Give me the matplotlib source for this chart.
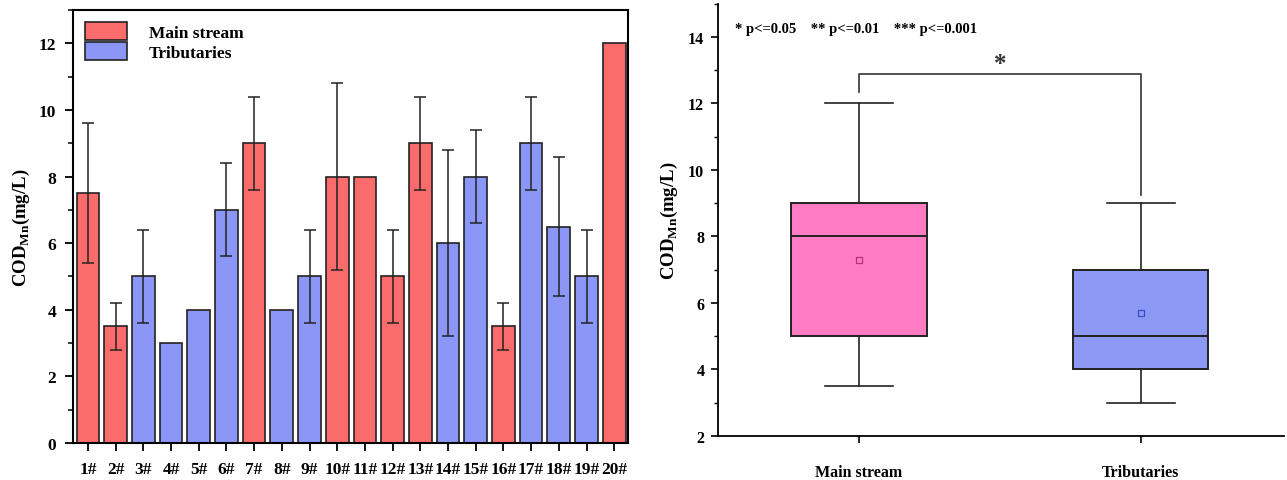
import numpy as np
import matplotlib.pyplot as plt
from matplotlib.patches import Patch
from matplotlib.ticker import MultipleLocator

#%% style
plt.rcParams['font.family'] = 'Liberation Serif'
plt.rcParams['font.weight'] = 'bold'
plt.rcParams['mathtext.fontset'] = 'custom'
plt.rcParams['mathtext.rm'] = 'Liberation Serif:bold'
plt.rcParams['mathtext.bf'] = 'Liberation Serif:bold'

#%% data
sites = [f'{i}#' for i in range(1, 21)]
cod = [7.5, 3.5, 5, 3, 4, 7, 9, 4, 5, 8, 8, 5, 9, 6, 8, 3.5, 9, 6.5, 5, 12]
cod_err = [2.1, 0.7, 1.4, 0, 0, 1.4, 1.4, 0, 1.4, 2.8, 0, 1.4, 1.4, 2.8, 1.4, 0.7, 1.4, 2.1, 1.4, 0]
is_main = [1, 1, 0, 0, 0, 0, 1, 0, 0, 1, 1, 1, 1, 0, 0, 1, 0, 0, 0, 1]
groups = ['Main stream', 'Tributaries']

c_main = '#FA6B6B'
c_trib = '#8A97F6'
c_box = ['#FF7BC2', '#8B98F4']
edge = '#222222'

#%% figure
fig = plt.figure(figsize=(12.87, 4.81), dpi=100)
ax1 = fig.add_axes([0.0565, 0.077, 0.4315, 0.9])
ax2 = fig.add_axes([0.558, 0.092, 0.44, 0.898])

#%% bar chart per site
x = np.arange(1, len(sites) + 1)
colors = [c_main if m else c_trib for m in is_main]
ax1.bar(x, cod, width=0.82, color=colors, edgecolor=edge, linewidth=1.2, zorder=2)
err = np.array(cod_err)
mask = err > 0
ax1.errorbar(x[mask], np.array(cod)[mask], yerr=err[mask], fmt='none',
             ecolor=edge, elinewidth=1.1, capsize=4.5, capthick=1.1, zorder=3)

ax1.set_xlim(0.45, 20.5)
ax1.set_ylim(0, 13)
ax1.set_xticks(x)
ax1.set_xticklabels(sites)
ax1.yaxis.set_major_locator(MultipleLocator(2))
ax1.yaxis.set_minor_locator(MultipleLocator(1))
ax1.tick_params(axis='both', which='major', direction='out', length=6, width=1.3,
                labelsize=12.5, pad=6)
ax1.tick_params(axis='y', which='minor', direction='out', length=3.5, width=1.1)
ax1.tick_params(axis='x', which='major', pad=7)
for sp in ax1.spines.values():
    sp.set_linewidth(1.5)
ax1.set_ylabel(r'COD$_{\rm Mn}$(mg/L)', fontsize=13.5, fontweight='bold', labelpad=5)

handles = [Patch(facecolor=c_main, edgecolor=edge, linewidth=1.2, label=groups[0]),
           Patch(facecolor=c_trib, edgecolor=edge, linewidth=1.2, label=groups[1])]
ax1.legend(handles=handles, loc='upper left', frameon=False, fontsize=12.5,
           handlelength=2.4, handleheight=1.2, handletextpad=1.3,
           labelspacing=0.05, borderaxespad=0.3, bbox_to_anchor=(0.0, 1.0))

#%% box plot of groups
main_vals = np.array([v for v, m in zip(cod, is_main) if m])
trib_vals = np.array([v for v, m in zip(cod, is_main) if not m])
stats = []
for name, vals in zip(groups, [main_vals, trib_vals]):
    q1, med, q3 = np.percentile(vals, [25, 50, 75], method='nearest')
    stats.append(dict(label=name, med=med, q1=q1, q3=q3,
                      whislo=vals.min(), whishi=vals.max(),
                      mean=vals.mean(), fliers=[]))

bp = ax2.bxp(stats, positions=[1, 2], widths=0.48, patch_artist=True,
             showmeans=True, showfliers=False,
             boxprops=dict(edgecolor=edge, linewidth=1.4),
             medianprops=dict(color=edge, linewidth=1.4),
             whiskerprops=dict(color=edge, linewidth=1.2),
             capprops=dict(color=edge, linewidth=1.2),
             meanprops=dict(marker='s', markersize=4, markerfacecolor='none',
                            markeredgewidth=0.9))
for patch, c in zip(bp['boxes'], c_box):
    patch.set_facecolor(c)
for cap in bp['caps']:
    xd = cap.get_xdata()
    mid = (xd[0] + xd[1]) / 2
    cap.set_xdata([mid - 0.12, mid + 0.12])
bp['means'][0].set_markeredgecolor('#B0307A')
bp['means'][1].set_markeredgecolor('#3A4AC0')

ax2.set_xlim(0.5, 2.51)
ax2.set_ylim(2, 15)
ax2.set_xticks([1, 2])
ax2.set_xticklabels(groups)
ax2.yaxis.set_major_locator(MultipleLocator(2))
ax2.yaxis.set_minor_locator(MultipleLocator(1))
ax2.spines['top'].set_visible(False)
ax2.spines['right'].set_visible(False)
for sp in ['left', 'bottom']:
    ax2.spines[sp].set_linewidth(1.3)
ax2.tick_params(axis='both', which='major', direction='out', length=5, width=1.2,
                labelsize=11.5, pad=5)
ax2.tick_params(axis='x', which='major', pad=15)
ax2.tick_params(axis='y', which='minor', direction='out', length=3, width=1.0)
ax2.set_ylabel(r'COD$_{\rm Mn}$(mg/L)', fontsize=13.5, fontweight='bold', labelpad=6)

# significance bracket
ax2.plot([1, 1, 2, 2], [12.35, 12.9, 12.9, 9.25], color='#333333', lw=1.2)
ax2.text(1.5, 12.85, '*', ha='center', va='bottom', fontsize=18, color='#333333')
ax2.text(0.56, 14.25, '* p<=0.05    ** p<=0.01    *** p<=0.001', ha='left',
         va='center', fontsize=10.5, fontweight='bold')

fig.savefig('out.png', dpi=100)
